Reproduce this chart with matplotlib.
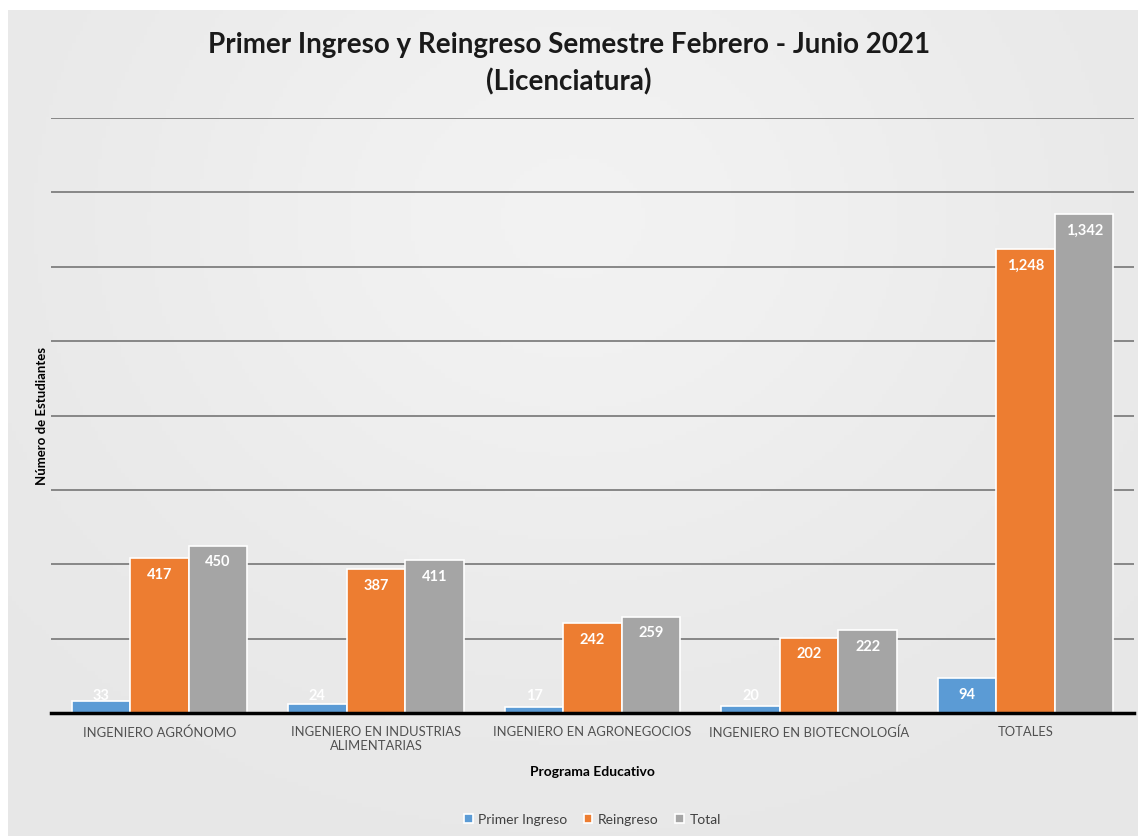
import numpy as np
import matplotlib.pyplot as plt

# Data
categories = ["INGENIERO AGRÓNOMO", "INGENIERO EN INDUSTRIAS\nALIMENTARIAS",
              "INGENIERO EN AGRONEGOCIOS", "INGENIERO EN BIOTECNOLOGÍA", "TOTALES"]
primer_ingreso = [33, 24, 17, 20, 94]
reingreso = [417, 387, 242, 202, 1248]
total = [450, 411, 259, 222, 1342]

series = [("Primer Ingreso", primer_ingreso, "#5B9BD5"),
          ("Reingreso", reingreso, "#ED7D31"),
          ("Total", total, "#A5A5A5")]

plt.rcParams["font.family"] = ["Lato", "DejaVu Sans"]

fig = plt.figure(figsize=(11.38, 8.37), dpi=100)
fig.patch.set_facecolor("white")

# grey chart-area background with a soft gradient, inset from top/left edge
bg = fig.add_axes([8 / 1138, 0, 1 - 8 / 1138, 1 - 11 / 837])
yy, xx = np.mgrid[0:1:200j, 0:1:300j]
shade = 0.905 + 0.045 * np.exp(-((xx - 0.5) ** 2 / 0.18 + (yy - 0.75) ** 2 / 0.25))
bg.imshow(np.dstack([shade] * 3), aspect="auto", extent=[0, 1, 0, 1], origin="lower")
bg.axis("off")

ax = fig.add_axes([51 / 1138, 1 - 714 / 837, (1134 - 51) / 1138, (714 - 119) / 837])
ax.set_facecolor("none")

x = np.arange(len(categories))
w = 0.27
for i, (name, vals, col) in enumerate(series):
    pos = x + (i - 1) * w
    ax.bar(pos, vals, width=w, color=col, edgecolor="white", linewidth=1.2,
           label=name, zorder=3)
    for px, v in zip(pos, vals):
        ax.text(px, max(v, 90) - 42, f"{v:,}", ha="center", va="center",
                color="white", fontsize=10.5, fontweight="bold", zorder=4)

ax.set_ylim(0, 1600)
ax.set_xlim(-0.5, len(categories) - 0.5)
ax.set_yticks(np.arange(200, 1601, 200))
ax.yaxis.grid(True, color="#7f7f7f", linewidth=1.3, zorder=0)
ax.tick_params(axis="y", length=0, labelleft=False)
ax.tick_params(axis="x", length=0, pad=9)
ax.set_xticks(x)
ax.set_xticklabels(categories, fontsize=9.4, color="#505050")
for s in ["top", "right", "left"]:
    ax.spines[s].set_visible(False)
ax.spines["bottom"].set_color("black")
ax.spines["bottom"].set_linewidth(2.5)
ax.spines["bottom"].set_zorder(5)

ax.set_xlabel("Programa Educativo", fontsize=10, fontweight="bold", labelpad=10)
ax.set_ylabel("Número de Estudiantes", fontsize=9.5, fontweight="bold", labelpad=2)

fig.text(0.5, 1 - 45 / 837, "Primer Ingreso y Reingreso Semestre Febrero - Junio 2021",
         ha="center", va="center", fontsize=20, fontweight="bold", color="#1a1a1a")
fig.text(0.5, 1 - 82 / 837, "(Licenciatura)",
         ha="center", va="center", fontsize=20, fontweight="bold", color="#1a1a1a")

leg = ax.legend(loc="center", bbox_to_anchor=(0.5, -(820 - 714) / (714 - 119)),
                ncol=3, frameon=False, fontsize=10, handlelength=0.6,
                handleheight=0.6, handletextpad=0.4, columnspacing=1.2)
for t in leg.get_texts():
    t.set_color("#404040")

fig.savefig("out.png", dpi=100)
